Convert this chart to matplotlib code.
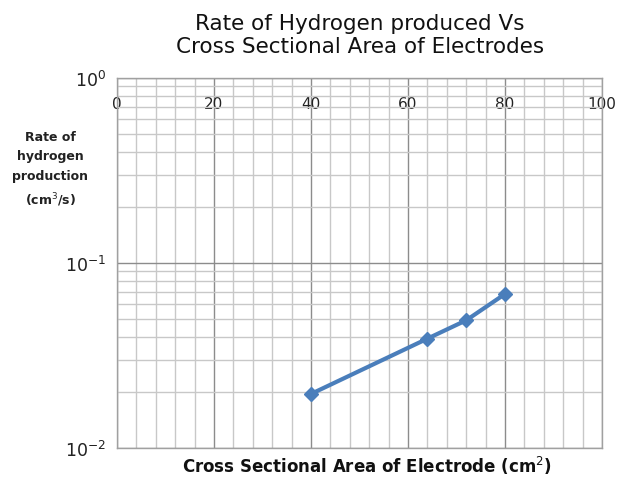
import matplotlib
matplotlib.use("Agg")
import matplotlib.pyplot as plt
from matplotlib.ticker import MultipleLocator, LogLocator, NullFormatter

# Data
area = [40, 64, 72, 80]            # cm^2
rate = [0.0196, 0.039, 0.049, 0.068]  # cm^3/s

fig = plt.figure(figsize=(6.17, 4.81), dpi=100)
ax = fig.add_axes([0.1896, 0.0665, 0.7861, 0.7693])

ax.set_yscale('log')
ax.set_ylim(0.01, 1)
ax.set_xlim(0, 100)

# Grid
ax.xaxis.set_major_locator(MultipleLocator(20))
ax.xaxis.set_minor_locator(MultipleLocator(4))
ax.yaxis.set_major_locator(LogLocator(base=10))
ax.yaxis.set_minor_locator(LogLocator(base=10, subs=range(2, 10)))
ax.yaxis.set_minor_formatter(NullFormatter())
ax.grid(True, which='major', color='#8c8c8c', linewidth=1.0)
ax.grid(True, which='minor', color='#c8c8c8', linewidth=1.0)
ax.set_axisbelow(True)

for s in ax.spines.values():
    s.set_color('#a0a0a0')
    s.set_linewidth(1.0)

# x tick labels sit inside the plot, near the top
ax.tick_params(axis='x', which='both', top=False, bottom=False,
               labeltop=True, labelbottom=False, length=0,
               pad=-24, labelsize=11, labelcolor='#222222')
ax.tick_params(axis='y', which='both', length=0, pad=8,
               labelsize=12.5, labelcolor='#222222')

ax.plot(area, rate, color='#4a7ebb', linewidth=3, marker='D',
        markersize=7, zorder=3)

fig.text(0.583, 0.927, 'Rate of Hydrogen produced Vs\nCross Sectional Area of Electrodes',
         ha='center', va='center', fontsize=15.5, linespacing=1.2, color='#111111')

fig.text(0.081, 0.647, 'Rate of\nhydrogen\nproduction\n(cm$^3$/s)', ha='center',
         va='center', fontsize=9, fontweight='bold', linespacing=1.65, color='#222222')

fig.text(0.595, 0.008, 'Cross Sectional Area of Electrode (cm$^{2}$)',
         ha='center', va='bottom', fontsize=12, fontweight='bold', color='#111111')

plt.savefig('out.png', dpi=100)
plt.close()
